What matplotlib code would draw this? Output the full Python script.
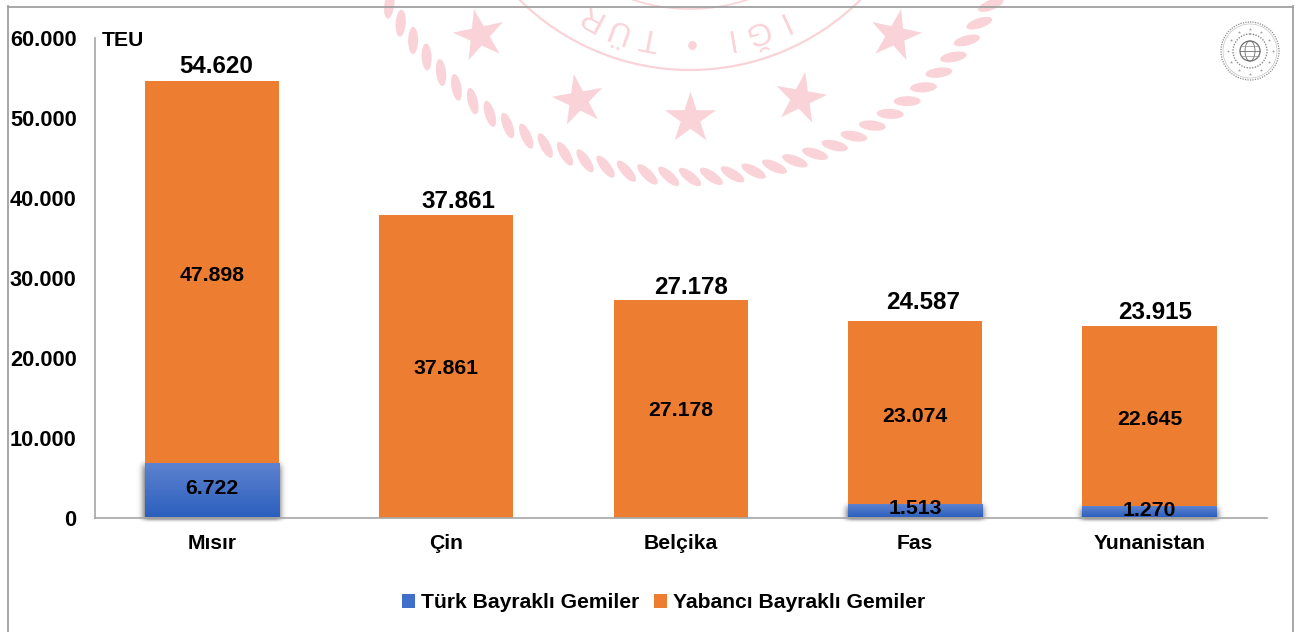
import math
import numpy as np
import matplotlib
matplotlib.use("Agg")
import matplotlib.pyplot as plt
from matplotlib.patches import Ellipse, Circle, Patch
from matplotlib.lines import Line2D
from matplotlib.markers import MarkerStyle
from matplotlib.transforms import Affine2D, IdentityTransform, offset_copy

categories = ["Mısır", "Çin", "Belçika", "Fas", "Yunanistan"]
turk_bayrakli = [6722, 0, 0, 1513, 1270]
yabanci_bayrakli = [47898, 37861, 27178, 23074, 22645]
y_ticks = [0, 10000, 20000, 30000, 40000, 50000, 60000]
series_names = ["Türk Bayraklı Gemiler", "Yabancı Bayraklı Gemiler"]
unit_label = "TEU"

# label nudges in pixels (style only)
total_shift_x = [4, 12, 10, 8, 6]
total_shift_y = [14, 13, 13, 19, 14]
turk_shift_y = [2, 0, 0, 3, 2]
yabanci_shift_y = [-3, -2, -2, -3, -3]

W, H = 1304, 632
plt.rcParams["font.family"] = ["Liberation Sans", "DejaVu Sans"]
plt.rcParams["font.weight"] = "bold"
fig = plt.figure(figsize=(W / 100, H / 100), dpi=100, facecolor="white")

def fmt(v):
    return f"{v:,}".replace(",", ".")

# ---------- decorative background (watermark seal, emblem) ----------
bg = fig.add_axes([0, 0, 1, 1], zorder=0)
bg.set_xlim(0, W)
bg.set_ylim(H, 0)
bg.axis("off")
PINK = "#f9d3d8"
cx, cy = 690, -172
R_rope = 349
for t in np.arange(27, 155, 3.5):
    r = np.radians(t)
    bg.add_patch(Ellipse((cx + R_rope * np.cos(r), cy + R_rope * np.sin(r)), 27, 10,
                         angle=t + 90 + 38, facecolor=PINK, edgecolor="none"))
for rr, lw in [(242, 1.6), (181, 1.2)]:
    bg.add_patch(Circle((cx, cy), rr, fill=False, edgecolor=PINK, linewidth=lw))
for (sx, sy, rot) in [(479, 35, 12), (578, 100, 10), (690, 118, 0), (800, 98, -10), (895, 35, -12)]:
    bg.scatter([sx], [sy], s=1500, color=PINK, linewidths=0,
               marker=MarkerStyle("*", transform=Affine2D().rotate_deg(rot)))
for letter, t in [("T", 101), ("Ü", 110), ("R", 118), ("•", 90), ("I", 80), ("Ğ", 72), ("I", 65)]:
    r = np.radians(t)
    bg.text(cx + 213 * np.cos(r), cy + 213 * np.sin(r), letter, color=PINK, fontsize=23,
            fontweight="normal", rotation=270 - t, ha="center", va="center",
            rotation_mode="anchor")

# emblem top-right
ex, ey = 1250, 51
G = "#8c8c8c"
bg.add_patch(Circle((ex, ey), 29, fill=False, edgecolor=G, linewidth=0.9, linestyle=(0, (1, 1))))
bg.add_patch(Circle((ex, ey), 27, fill=False, edgecolor="#c4c4c4", linewidth=0.5))
bg.add_patch(Circle((ex, ey), 17, fill=False, edgecolor=G, linewidth=1.0, linestyle=(0, (1, 1))))
bg.add_patch(Circle((ex, ey), 10, fill=False, edgecolor="#6f6f6f", linewidth=0.9))
bg.add_patch(Ellipse((ex, ey), 10, 20, fill=False, edgecolor="#6f6f6f", linewidth=0.6))
bg.plot([ex - 10, ex + 10], [ey, ey], color="#6f6f6f", lw=0.6)
bg.plot([ex - 9, ex + 9], [ey - 5, ey - 5], color="#8f8f8f", lw=0.5)
bg.plot([ex - 9, ex + 9], [ey + 5, ey + 5], color="#8f8f8f", lw=0.5)
for a in np.arange(0, 360, 30):
    bg.scatter([ex + 22.5 * np.cos(np.radians(a))], [ey + 22.5 * np.sin(np.radians(a))],
               s=5, marker="*", color="#9a9a9a", linewidths=0)

# ---------- chart ----------
L, Rr, T, B = 94.7, 1266.7, 38, 517.5
ax = fig.add_axes([L / W, (H - B) / H, (Rr - L) / W, (B - T) / H], zorder=2)
ax.patch.set_alpha(0)
x = np.arange(len(categories))
bar_w = 0.572
ax.set_xlim(-0.5, len(categories) - 0.5)
ax.set_ylim(min(y_ticks), max(y_ticks))

turk = np.array(turk_bayrakli)
yab = np.array(yabanci_bayrakli)
ORANGE = "#ed7d31"
bars_y = ax.bar(x, yab, bar_w, bottom=turk, color=ORANGE, zorder=3)
bars_t = ax.bar(x, turk, bar_w + 0.003, color="none", zorder=4)

grad = np.linspace(0, 1, 64).reshape(-1, 1)
cmap = matplotlib.colors.LinearSegmentedColormap.from_list("b", ["#5d82cf", "#2c60be"])
fig.canvas.draw()

# soft drop shadow under the Turkish-flag bars, computed on the pixel grid
erf = np.vectorize(math.erf)
alpha = np.zeros((H, W))
sigma = 3.2
px = np.arange(W) + 0.5
py = np.arange(H) + 0.5
for b, v in zip(bars_t, turk):
    if v <= 0:
        continue
    e = b.get_window_extent()
    top, bot = H - e.y1 + 1, H - e.y0 + 2
    fx = 0.5 * (erf((px - e.x0 + 1) / (sigma * 2 ** 0.5)) - erf((px - e.x1 - 1) / (sigma * 2 ** 0.5)))
    fy = 0.5 * (erf((py - top) / (sigma * 2 ** 0.5)) - erf((py - bot) / (1.6 * 2 ** 0.5)))
    alpha = np.maximum(alpha, 0.62 * np.outer(fy, fx))
shadow = np.zeros((H, W, 4))
shadow[..., 3] = alpha
fig.figimage(shadow, 0, 0, origin="upper", zorder=1)

for b, v in zip(bars_t, turk):
    if v <= 0:
        continue
    x0, w = b.get_x(), b.get_width()
    ax.imshow(grad, extent=(x0, x0 + w, 0, v), aspect="auto", cmap=cmap, zorder=4,
              interpolation="bilinear")
ax.set_xlim(-0.5, len(categories) - 0.5)
ax.set_ylim(min(y_ticks), max(y_ticks))

for i in x:
    tr_y = offset_copy(ax.transData, fig=fig, x=0, y=yabanci_shift_y[i], units="dots")
    ax.text(i, turk[i] + yab[i] / 2, fmt(yab[i]), transform=tr_y, ha="center", va="center",
            fontsize=15.3, color="black", zorder=6)
    if turk[i] > 0:
        tr_t = offset_copy(ax.transData, fig=fig, x=0, y=turk_shift_y[i], units="dots")
        ax.text(i, turk[i] / 2, fmt(turk[i]), transform=tr_t, ha="center", va="center",
                fontsize=15.3, color="black", zorder=6)
    tr_s = offset_copy(ax.transData, fig=fig, x=total_shift_x[i], y=total_shift_y[i], units="dots")
    ax.text(i, turk[i] + yab[i], fmt(turk[i] + yab[i]), transform=tr_s, ha="center",
            va="center", fontsize=17.4, color="black", zorder=6)

for s in ("top", "right"):
    ax.spines[s].set_visible(False)
for s in ("left", "bottom"):
    ax.spines[s].set_color("#a6a6a6")
    ax.spines[s].set_linewidth(1.2)
    ax.spines[s].set_zorder(5)
ax.set_xticks(x, categories, fontsize=15.2)
ax.set_yticks(y_ticks, [fmt(v) for v in y_ticks], fontsize=15.7)
ax.tick_params(axis="both", length=0)
ax.tick_params(axis="y", pad=13)
ax.tick_params(axis="x", pad=11.6)
ax.text(102, H - 40, unit_label, transform=IdentityTransform(), fontsize=15.2, ha="left",
        va="center", color="black")

# legend
handles = [Patch(facecolor="#3f6fc8", edgecolor="none"), Patch(facecolor=ORANGE, edgecolor="none")]
fig.legend(handles, series_names, loc="center", bbox_to_anchor=(664 / W, (H - 603) / H),
           ncol=2, frameon=False, fontsize=15.2, handlelength=0.6, handleheight=0.6,
           handletextpad=0.3, columnspacing=0.7, borderpad=0)

# frame
frame = "#a0a0a0"
for xs, ys in [([7.5, 7.5], [6, H]), ([7.5, 1293], [6.5, 6.5]), ([1293, 1293], [6, H])]:
    fig.add_artist(Line2D(np.array(xs) / W, 1 - np.array(ys) / H, color=frame, linewidth=1.3))

fig.savefig("out.png", dpi=100)
